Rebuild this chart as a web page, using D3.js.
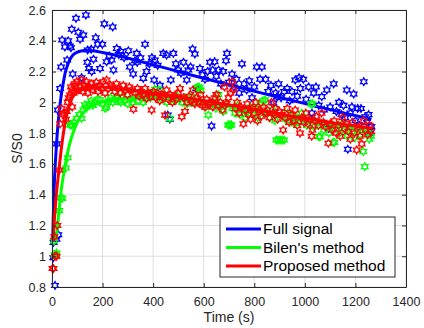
<!DOCTYPE html>
<html>
<head>
<meta charset="utf-8">
<script src="https://cdn.jsdelivr.net/npm/d3@7"></script>
<style>
  body { margin: 0; background: #fff; }
  svg { display: block; font-family: "Liberation Sans", Arial, sans-serif; }
</style>
</head>
<body>
<div id="chart"></div>
<script>
// --- data: [time (s), S/S0] ---
const fullSignal = [
  [5,0.99],[6,1.09],[12,0.81],[18,1.11],[25,1.14],[19,1.73],[23,1.95],[32,2.09],[36,2.23],[40,2.405],
  [51,2.36],[60,2.275],[64,2.40],[71,2.366],[75,2.355],[78,2.475],[82,2.184],[95,2.546],[104,2.455],[111,2.41],
  [117,2.16],[124,2.437],[134,2.567],[140,2.26],[141,2.34],[146,2.22],[155,2.345],[157,2.20],[164,2.28],[173,2.42],
  [181,2.377],[190,2.22],[199,2.377],[207,2.51],[216,2.264],[226,2.30],[236,2.275],[240,2.49],[243,2.21],[256,2.35],
  [264,2.31],[272,2.33],[285,2.29],[302,2.335],[308,2.23],[321,2.184],[328,2.27],[335,2.318],[337,2.26],[350,2.29],
  [361,2.156],[368,2.377],[374,2.20],[385,2.25],[395,2.29],[404,2.145],[407,2.275],[418,2.24],[427,2.11],[440,2.318],
  [453,2.307],[458,1.917],[466,1.89],[470,2.145],[480,2.318],[490,2.25],[499,2.21],[510,2.19],[520,2.26],[533,2.145],
  [539,2.21],[548,2.23],[556,2.346],[565,2.314],[570,2.09],[585,2.22],[595,2.18],[605,2.15],[615,2.20],[625,2.26],
  [631,1.846],[635,2.21],[643,2.264],[650,2.17],[659,2.21],[668,2.12],[677,2.20],[688,2.27],[692,2.318],[700,2.13],
  [712,2.184],[720,2.10],[730,2.15],[740,2.06],[751,2.25],[760,2.12],[770,2.08],[780,2.14],[791,2.03],[800,2.10],
  [810,2.23],[823,2.15],[830,2.23],[845,2.15],[855,2.07],[866,2.11],[876,1.995],[885,2.06],[890,2.037],[896,2.12],
  [906,2.03],[918,2.07],[930,2.09],[940,2.01],[949,2.07],[962,2.145],[970,2.04],[977,2.16],[982,2.09],[994,2.15],
  [1005,2.02],[1015,2.10],[1028,1.93],[1035,2.06],[1044,2.10],[1055,1.98],[1067,2.037],[1076,1.95],[1087,2.08],[1094,1.83],
  [1100,1.97],[1114,2.12],[1125,1.94],[1135,2.0],[1145,1.92],[1153,1.98],[1160,1.90],[1166,2.08],[1170,1.695],[1180,1.93],
  [1186,1.97],[1193,2.054],[1200,1.88],[1209,1.96],[1215,1.85],[1222,1.96],[1233,2.134],[1239,1.906],[1245,1.87],[1252,1.92],
  [1258,1.80],[1263,1.842]
];
const bilen = [
  [8,1.10],[10,1.01],[14,1.01],[18,1.02],[29,1.296],[35,1.38],[41,1.376],[55,1.573],[62,1.64],[71,1.853],
  [75,1.853],[79,1.853],[86,1.87],[98,1.896],[108,1.92],[117,1.896],[124,1.95],[130,1.983],[138,1.97],[146,1.99],
  [155,2.01],[162,1.98],[170,2.0],[180,2.02],[190,2.016],[200,1.99],[210,1.96],[216,1.97],[224,2.01],[232,2.03],
  [240,2.0],[248,2.02],[256,2.03],[264,2.01],[272,2.0],[280,2.04],[288,2.01],[300,1.99],[310,2.02],[320,2.0],
  [330,2.03],[340,2.01],[350,2.04],[360,2.0],[370,2.02],[380,2.05],[390,2.03],[398,2.06],[407,2.085],[415,2.05],
  [427,2.08],[435,2.02],[445,2.04],[455,2.0],[466,1.896],[475,2.03],[485,2.01],[495,2.04],[505,2.02],[515,2.0],
  [525,2.03],[535,1.99],[545,2.02],[555,2.04],[565,2.0],[574,2.097],[578,2.097],[583,2.097],[589,2.08],[598,2.0],
  [608,1.97],[618,1.917],[628,1.98],[638,2.0],[648,1.96],[658,2.05],[668,1.97],[678,1.94],[688,1.99],[696,1.853],
  [700,1.853],[705,1.853],[710,1.853],[714,1.96],[724,1.93],[734,1.98],[744,1.92],[754,1.95],[764,1.90],[774,1.94],
  [784,1.97],[794,1.92],[804,1.96],[814,1.90],[824,1.99],[834,2.01],[843,2.016],[852,1.93],[862,1.90],[872,1.95],
  [882,1.88],[887,1.755],[894,1.755],[902,1.755],[910,1.755],[918,1.755],[924,1.89],[932,1.93],[940,1.88],[948,1.91],
  [958,1.86],[968,1.90],[978,1.87],[988,1.93],[998,1.89],[1008,1.85],[1018,1.88],[1024,1.99],[1030,1.99],[1036,1.84],
  [1046,1.87],[1055,1.777],[1060,1.777],[1065,1.86],[1075,1.82],[1085,1.85],[1095,1.80],[1105,1.84],[1112,1.74],[1117,1.74],
  [1128,1.83],[1138,1.80],[1148,1.86],[1158,1.82],[1168,1.78],[1178,1.84],[1188,1.81],[1198,1.77],[1208,1.83],[1218,1.79],
  [1231,1.68],[1237,1.582],[1245,1.80],[1255,1.76],[1262,1.78]
];
const proposed = [
  [2,0.92],[6,0.92],[9,1.127],[12,1.0],[18,1.0],[21,1.2],[29,1.56],[32,1.86],[38,1.96],[42,1.92],
  [48,1.93],[55,1.89],[58,1.94],[62,2.0],[66,2.03],[71,2.047],[75,2.1],[78,2.08],[80,1.97],[85,2.06],
  [90,2.12],[94,2.10],[98,2.134],[104,2.08],[110,2.1],[117,2.145],[122,2.07],[128,2.11],[132,2.09],[136,2.134],
  [142,2.06],[148,2.1],[155,2.12],[162,2.08],[168,2.10],[175,2.13],[182,2.07],[188,2.11],[196,2.09],[203,2.134],
  [210,2.06],[216,2.145],[224,2.09],[232,2.11],[240,2.10],[248,2.07],[255,2.12],[262,2.09],[270,2.06],[282,2.11],
  [290,2.08],[298,2.05],[306,2.10],[315,2.08],[322,1.955],[330,2.06],[338,2.09],[345,2.04],[352,2.07],[360,2.05],
  [368,2.09],[374,2.026],[382,2.06],[390,2.04],[394,1.95],[402,2.07],[410,2.03],[418,2.06],[426,2.01],[434,2.05],
  [440,2.03],[447,1.917],[453,2.08],[460,2.02],[468,2.05],[476,2.0],[484,2.04],[492,2.02],[500,2.06],[506,2.09],
  [513,1.906],[520,2.03],[526,1.94],[534,2.0],[542,2.04],[550,2.01],[557,2.08],[565,1.99],[572,2.03],[580,2.0],
  [588,2.05],[596,1.98],[605,1.97],[612,2.02],[620,1.99],[628,2.0],[636,1.97],[644,2.03],[650,2.05],[658,1.98],
  [666,2.0],[674,1.95],[682,2.1],[690,1.99],[698,2.03],[705,2.06],[712,2.134],[718,2.08],[725,1.96],[732,2.0],
  [740,1.93],[748,1.97],[757,1.86],[764,1.95],[772,1.99],[778,1.92],[785,1.89],[792,1.96],[800,1.93],[806,2.0],
  [813,1.88],[820,1.95],[828,1.91],[836,1.97],[844,1.93],[852,1.95],[860,1.90],[868,2.0],[876,1.93],[884,1.96],
  [892,1.89],[900,1.94],[908,1.92],[914,1.82],[922,1.90],[930,1.96],[938,1.87],[946,1.92],[954,1.88],[962,1.95],
  [970,1.85],[981,1.80],[988,1.90],[996,1.87],[1004,1.93],[1012,1.86],[1020,1.89],[1027,1.78],[1030,1.82],[1038,1.88],
  [1046,1.91],[1054,1.85],[1066,1.93],[1074,1.87],[1082,1.84],[1093,1.734],[1100,1.86],[1108,1.82],[1116,1.88],[1124,1.80],
  [1132,1.85],[1140,1.78],[1148,1.90],[1156,1.83],[1165,1.86],[1172,1.81],[1180,1.76],[1188,1.87],[1196,1.80],[1205,1.69],
  [1212,1.84],[1218,1.78],[1225,1.73],[1232,1.88],[1240,1.82],[1248,1.79],[1256,1.85],[1262,1.81]
];

// fitted curves
const fullFit = [
  [3,1.1],[6,1.3],[9,1.46],[12,1.57],[16,1.68],[20,1.78],[25,1.88],[30,1.96],[36,2.04],[44,2.12],
  [52,2.19],[60,2.235],[70,2.275],[80,2.302],[95,2.322],[115,2.334],[140,2.338],[170,2.333],[200,2.324],[256,2.305],
  [350,2.265],[450,2.222],[550,2.178],[650,2.135],[750,2.093],[850,2.052],[950,2.012],[1050,1.972],[1150,1.933],[1263,1.89]
];
const bilenFit = [
  [16,1.1],[22,1.2],[28,1.3],[38,1.45],[50,1.57],[60,1.66],[70,1.73],[85,1.81],[100,1.87],[120,1.925],
  [140,1.958],[177,1.99],[230,2.013],[300,2.026],[400,2.03],[500,2.02],[600,2.0],[700,1.972],[800,1.942],[900,1.908],
  [1000,1.878],[1100,1.852],[1200,1.83],[1263,1.815]
];
const proposedFit = [
  [4,1.1],[10,1.25],[16,1.38],[22,1.48],[30,1.6],[40,1.74],[50,1.85],[58,1.92],[68,1.98],[80,2.03],
  [98,2.068],[120,2.09],[150,2.1],[190,2.1],[256,2.09],[348,2.07],[453,2.047],[585,2.015],[650,1.998],[750,1.97],
  [850,1.94],[950,1.91],[1050,1.883],[1150,1.857],[1263,1.832]
];

const xTicks = [0, 200, 400, 600, 800, 1000, 1200, 1400];
const yTicks = [0.8, 1, 1.2, 1.4, 1.6, 1.8, 2, 2.2, 2.4, 2.6];
const seriesNames = ["Full signal", "Bilen's method", "Proposed method"];
const seriesColors = ["#0000ff", "#00ff00", "#ff0000"];

// --- layout ---
const W = 424, H = 328;
const M = { top: 10, left: 52, right: 18, bottom: 41 };
const iw = W - M.left - M.right, ih = H - M.top - M.bottom;
const axisCol = "#262626";

const svg = d3.select("#chart").append("svg").attr("width", W).attr("height", H);
const g = svg.append("g").attr("transform", `translate(${M.left},${M.top})`);

const x = d3.scaleLinear().domain([0, 1400]).range([0, iw]);
const y = d3.scaleLinear().domain([0.8, 2.6]).range([ih, 0]);

// grid
g.append("g").attr("class", "grid")
  .selectAll("line.gx").data(xTicks).enter().append("line")
  .attr("x1", d => x(d)).attr("x2", d => x(d)).attr("y1", 0).attr("y2", ih)
  .attr("stroke", "#dfdfdf").attr("stroke-width", 1);
g.append("g").attr("class", "grid")
  .selectAll("line.gy").data(yTicks).enter().append("line")
  .attr("y1", d => y(d)).attr("y2", d => y(d)).attr("x1", 0).attr("x2", iw)
  .attr("stroke", "#dfdfdf").attr("stroke-width", 1);

function hexagram(R) {
  const r = R / Math.sqrt(3);
  let p = [];
  for (let k = 0; k < 12; k++) {
    const a = (k * 30 - 90) * Math.PI / 180;
    const rad = k % 2 === 0 ? R : r;
    p.push([rad * Math.cos(a), rad * Math.sin(a)]);
  }
  return "M" + p.map(q => q[0].toFixed(2) + "," + q[1].toFixed(2)).join("L") + "Z";
}
const star = hexagram(3.8);

const line = d3.line().x(d => x(d[0])).y(d => y(d[1])).curve(d3.curveMonotoneX);

const plotArea = g.append("g");
[[fullSignal, fullFit], [bilen, bilenFit], [proposed, proposedFit]].forEach(([pts, fit], i) => {
  plotArea.append("g").selectAll("path").data(pts).enter().append("path")
    .attr("d", star)
    .attr("transform", d => `translate(${x(d[0])},${y(d[1])})`)
    .attr("fill", "none")
    .attr("stroke", seriesColors[i])
    .attr("stroke-width", 1.3);
  plotArea.append("path").datum(fit)
    .attr("d", line)
    .attr("fill", "none")
    .attr("stroke", seriesColors[i])
    .attr("stroke-width", 3);
});

// axes (MATLAB style: inward ticks, box on)
const tickLen = 4;
const xAx = g.append("g").attr("transform", `translate(0,${ih})`)
  .call(d3.axisBottom(x).tickValues(xTicks).tickSizeInner(-tickLen).tickSizeOuter(0).tickPadding(10).tickFormat(d3.format("d")));
const yAx = g.append("g")
  .call(d3.axisLeft(y).tickValues(yTicks).tickSizeInner(-tickLen).tickSizeOuter(0).tickPadding(6).tickFormat(d => String(+d.toFixed(1))));
const xTop = g.append("g")
  .call(d3.axisTop(x).tickValues(xTicks).tickSizeInner(-tickLen).tickSizeOuter(0).tickFormat(""));
const yRight = g.append("g").attr("transform", `translate(${iw},0)`)
  .call(d3.axisRight(y).tickValues(yTicks).tickSizeInner(-tickLen).tickSizeOuter(0).tickFormat(""));
[xAx, yAx, xTop, yRight].forEach(a => {
  a.selectAll("path,line").attr("stroke", axisCol).attr("stroke-width", 1);
  a.selectAll("text").attr("fill", axisCol).style("font-size", "12.5px");
});

// axis labels
svg.append("text")
  .attr("x", M.left + iw / 2).attr("y", 322)
  .attr("text-anchor", "middle").attr("fill", axisCol)
  .style("font-size", "14px").text("Time (s)");
svg.append("text")
  .attr("transform", `translate(22,${M.top + ih / 2}) rotate(-90)`)
  .attr("text-anchor", "middle").attr("fill", axisCol)
  .style("font-size", "14px").text("S/S0");

// legend
const lg = svg.append("g").attr("transform", "translate(220,217)");
lg.append("rect").attr("width", 175).attr("height", 60)
  .attr("fill", "#fff").attr("stroke", axisCol).attr("stroke-width", 1);
seriesNames.forEach((name, i) => {
  const cy = 12 + i * 18.5;
  lg.append("line").attr("x1", 6).attr("x2", 41).attr("y1", cy).attr("y2", cy)
    .attr("stroke", seriesColors[i]).attr("stroke-width", 3);
  lg.append("text").attr("x", 43).attr("y", cy).attr("dy", "0.35em")
    .attr("fill", "#000").style("font-size", "15.5px").text(name);
});
</script>
</body>
</html>
